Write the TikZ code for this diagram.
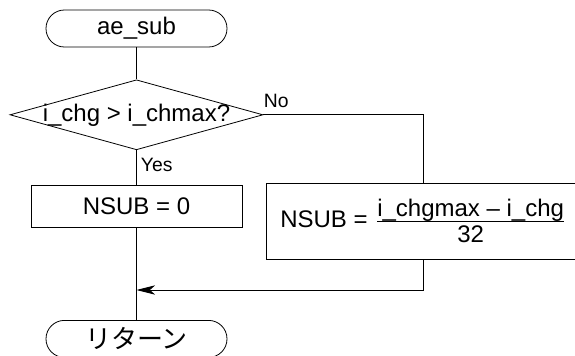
\documentclass[tikz,border=0pt]{standalone}
\usepackage{amsmath}
\usepackage{fontspec}
\setmainfont{Liberation Sans}
\newfontfamily\jpfont{Noto Sans CJK JP}
\usetikzlibrary{arrows.meta,positioning,shapes.geometric}

\begin{document}
\begin{tikzpicture}[x=0.75pt,y=-0.75pt,line width=0.6pt,
  term/.style={draw,rectangle,rounded corners=13.8pt,minimum width=135.75pt,minimum height=27.75pt,inner sep=0pt,font=\fontsize{18}{20}\selectfont},
  proc/.style={draw,rectangle,inner sep=0pt,font=\fontsize{18}{20}\selectfont},
  cond/.style={draw,diamond,aspect=3.6,inner sep=0pt,minimum width=189.75pt,minimum height=52.5pt,font=\fontsize{18}{20}\selectfont},
  lbl/.style={inner sep=0pt,font=\fontsize{14.5}{16}\selectfont},
  arr/.style={-{Stealth[length=14pt,width=7pt,inset=4pt]}}]
\useasboundingbox (0,0) rectangle (575,356);
\node[term] (start) at (136.5,28.5) {ae\_sub};
\node[cond,below=24pt of start] (chk) {\makebox[0pt]{i\_chg > i\_chmax?}};
\node[proc,minimum width=158.25pt,minimum height=31.5pt,below=26.25pt of chk] (zero) {NSUB = 0};
\node[proc,minimum width=235.5pt,minimum height=57pt] (calc) at (423,221)
  {NSUB =\hspace{6pt}$\dfrac{\raisebox{-3.5pt}{\smash[b]{\text{i\_chgmax -- i\_chg}}}}{\text{32}}$};
\node[term,below=69pt of zero,font=\fontsize{19.5}{21}\selectfont\jpfont] (ret) {リターン};
\coordinate (join) at (136.5,290);
\node[lbl,anchor=south west] (no) at ([yshift=5pt]chk.east) {No};
\node[lbl,anchor=north west] (yes) at ([xshift=3pt,yshift=-6pt]chk.south) {Yes};
\draw (start)--(chk);\draw (chk)--(zero);\draw (zero)--(ret);
\draw (chk.east) -| (calc.north);
\draw[arr] (calc.south) |- (join);
\end{tikzpicture}
\end{document}
